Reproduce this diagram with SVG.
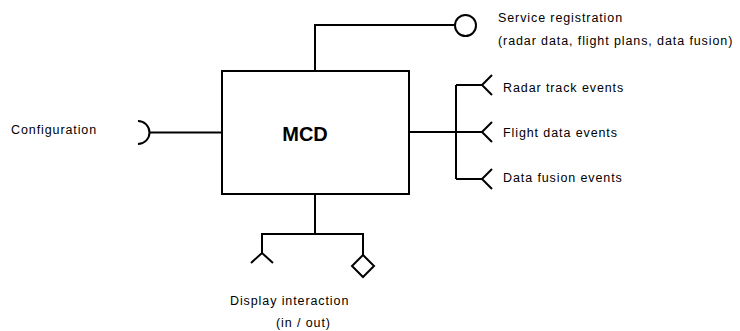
<svg xmlns="http://www.w3.org/2000/svg" width="740" height="331" viewBox="0 0 740 331">
  <style>
    .ln { fill: none; stroke: #000; stroke-width: 2; }
    .sym { fill: #fff; stroke: #000; stroke-width: 2; }
    .lbl { font-family: "Liberation Sans", Arial, sans-serif; font-size: 12.5px; letter-spacing: 0.9px; fill: #000; }
    .title { font-family: "Liberation Sans", Arial, sans-serif; font-size: 20px; font-weight: bold; fill: #000; }
  </style>
  <rect width="740" height="331" fill="#fff"/>

  <!-- component -->
  <g id="mcd">
    <rect class="sym" x="222" y="71" width="187" height="123"/>
    <text class="title" x="305" y="140.5" text-anchor="middle">MCD</text>
  </g>

  <!-- connectors -->
  <g id="connectors">
    <!-- service registration (top) -->
    <path class="ln" d="M315 71 V25 H455"/>
    <!-- event outputs (right) -->
    <path class="ln" d="M409 132 H456 M456 85 V179 M456 85 H482 M456 132 H482 M456 179 H482"/>
    <!-- configuration (left) -->
    <path class="ln" d="M150 132.5 H222"/>
    <!-- display interaction (bottom) -->
    <path class="ln" d="M315 194 V234 M262 253 V234 H363 V255"/>
  </g>

  <!-- provided / required interface symbols -->
  <g id="service-registration">
    <circle class="sym" cx="465.5" cy="25.5" r="10.5"/>
    <text class="lbl" x="498" y="22">Service registration</text>
    <text class="lbl" x="498" y="45">(radar data, flight plans, data fusion)</text>
  </g>

  <g id="radar-track-events">
    <path class="ln" d="M492 75 L482 85 L492 95"/>
    <text class="lbl" x="503" y="92">Radar track events</text>
  </g>

  <g id="flight-data-events">
    <path class="ln" d="M492 122 L482 132 L492 142"/>
    <text class="lbl" x="503" y="137">Flight data events</text>
  </g>

  <g id="data-fusion-events">
    <path class="ln" d="M492 169 L482 179 L492 189"/>
    <text class="lbl" x="503" y="182">Data fusion events</text>
  </g>

  <g id="configuration">
    <path class="ln" d="M138 121 A11.5 11.5 0 0 1 138 144"/>
    <text class="lbl" x="11" y="134">Configuration</text>
  </g>

  <g id="display-interaction">
    <path class="ln" d="M251 263 L262 253 L273 263"/>
    <path class="sym" d="M363 255 L374 266 L363 277 L352 266 Z"/>
    <text class="lbl" x="230" y="305">Display interaction</text>
    <text class="lbl" x="276" y="327">(in / out)</text>
  </g>
</svg>
